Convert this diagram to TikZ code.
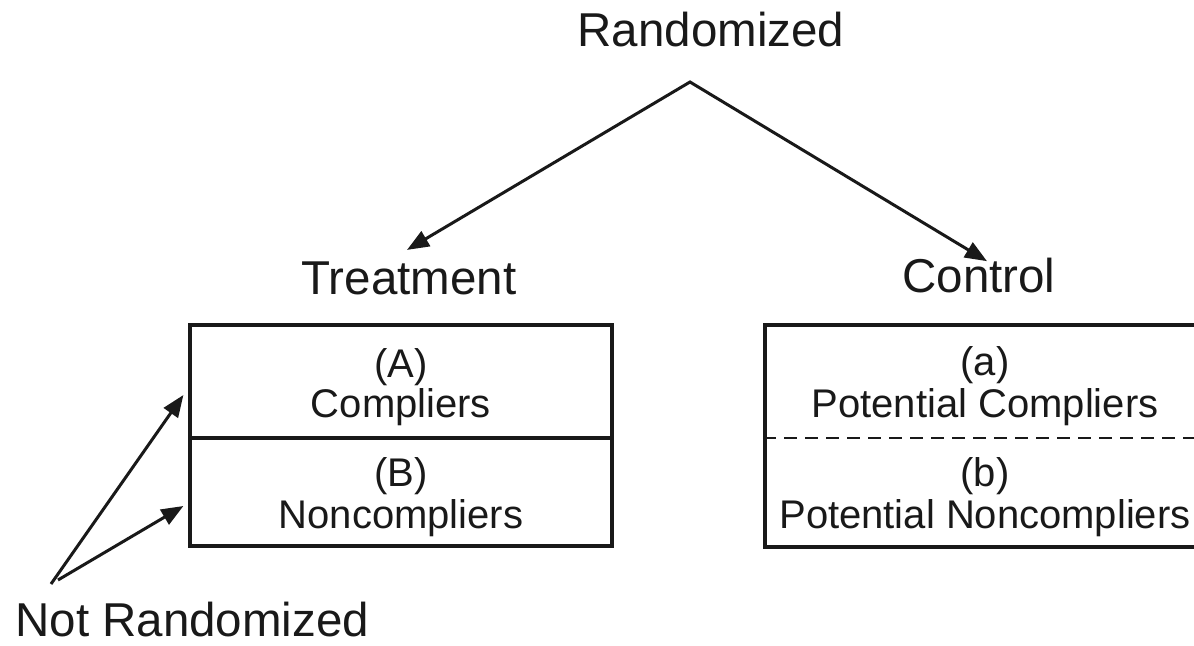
\documentclass[tikz,border=0pt]{standalone}
\usepackage{fontspec}
\setmainfont{Liberation Sans}
\usetikzlibrary{arrows.meta}
\begin{document}
\begin{tikzpicture}[x=0.5pt,y=-0.5pt,
  lbl/.style={font=\fontsize{23.75}{28}\selectfont, inner sep=0pt, anchor=base, text=black!90},
  txt/.style={font=\fontsize{20}{24}\selectfont, inner sep=0pt, anchor=base, text=black!90},
  box/.style={draw=black!90, line width=1.6pt, inner sep=0pt},
  divider/.style={draw=black!90, line width=1.6pt},
  dashdiv/.style={draw=black!90, line width=1.4pt, dash pattern=on 6.5pt off 4pt},
  arr/.style={draw=black!90, line width=1.5pt, -{Triangle[length=11pt,width=8.5pt]}},
  twoarr/.style={draw=black!90, line width=1.5pt, line join=miter,
     {Triangle[length=11pt,width=8.5pt]}-{Triangle[length=11pt,width=8.5pt]}},
  ]
\useasboundingbox (0,0) rectangle (1194,646);
\clip (0,0) rectangle (1194,646);

% labels
\node[lbl] (rand) at (711,47) {Randomized};
\node[lbl] (treat) at (409,295) {Treatment};
\node[lbl] (ctrl) at (979,293) {Control};
\node[lbl, anchor=base west] (notrand) at (15,636) {Not Randomized};

% boxes
\node[box, minimum width=211pt, minimum height=110.5pt] (tbox) at (401,435.5) {};
\node[box, minimum width=220pt, minimum height=111pt] (cbox) at (985,436) {};
\coordinate (div) at (0,438);
\draw[divider] (tbox.west |- div) -- (tbox.east |- div);
\draw[dashdiv] (cbox.west |- div) -- (cbox.east |- div);

% box texts
\node[txt] (Al) at (401,378) {(A)};
\node[txt] (A)  at (401,418) {Compliers};
\node[txt] (Bl) at (401,487) {(B)};
\node[txt] (B)  at (401,528) {Noncompliers};
\node[txt] (al) at (985,376) {(a)};
\node[txt] (a)  at (985,418) {Potential Compliers};
\node[txt] (bl) at (985,487) {(b)};
\node[txt] (b)  at (985,528) {Potential Noncompliers};

% arrows from Randomized
\coordinate (apex) at (690,82);
\draw[twoarr] ([shift={(-2,-12)}]treat.north) -- (apex) -- ([shift={(8,3)}]ctrl.north);

% arrows from Not Randomized
\coordinate (s1) at (51,584);
\coordinate (s2) at (58,580);
\draw[arr] (s1) -- ([shift={(-5,-40.5)}]tbox.west);
\draw[arr] (s2) -- ([shift={(-5,70.5)}]tbox.west);
\end{tikzpicture}
\end{document}
